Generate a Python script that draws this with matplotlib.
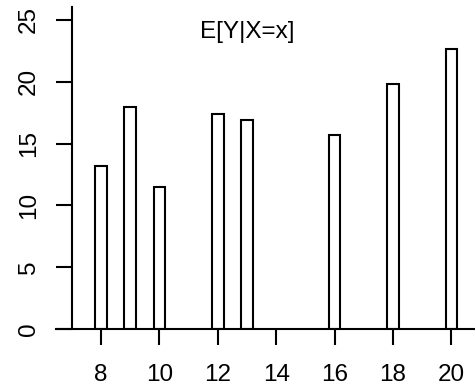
import matplotlib.pyplot as plt

plt.rcParams['font.family'] = ['Liberation Sans', 'DejaVu Sans']

# conditional means of Y for each observed x
x_vals = [8, 9, 10, 12, 13, 16, 18, 20]
cond_means = [13.15, 17.93, 11.45, 17.40, 16.94, 15.67, 19.83, 22.66]
x_ticks = [8, 10, 12, 14, 16, 18, 20]
y_ticks = [0, 5, 10, 15, 20, 25]

fig = plt.figure(figsize=(4.75, 3.89), dpi=100)
ax = fig.add_axes([56 / 475, 60 / 389, 419 / 475, 322 / 389])

ax.bar(x_vals, cond_means, width=0.4, facecolor='white', edgecolor='black',
       linewidth=1.5)
ax.text(13, 24, 'E[Y|X=x]', ha='center', va='center', fontsize=17.5)

ax.set_xlim(6.46, 20.81)
ax.set_ylim(0, 26.05)
ax.set_xticks(x_ticks)
ax.set_yticks(y_ticks)

for s in ['top', 'right']:
    ax.spines[s].set_visible(False)
ax.spines['left'].set_position(('data', 7))
ax.spines['left'].set_linewidth(1.5)
ax.spines['bottom'].set_linewidth(1.5)

ax.tick_params(axis='both', length=11.5, width=1.5, labelsize=17.5)
ax.tick_params(axis='x', pad=14)
ax.tick_params(axis='y', labelrotation=90, pad=11.5)
for lab in ax.get_yticklabels():
    lab.set_va('center')

plt.savefig('out.png', dpi=100)
